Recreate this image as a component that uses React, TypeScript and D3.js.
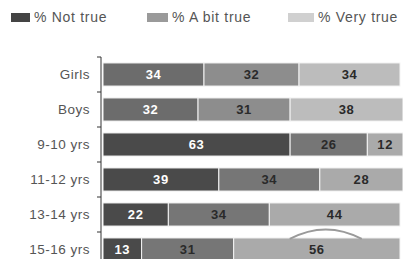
import React, { useEffect, useRef } from 'react';
import * as d3 from 'd3';

const categories = ['Girls', 'Boys', '9-10 yrs', '11-12 yrs', '13-14 yrs', '15-16 yrs'];
const seriesNames = ['% Not true', '% A bit true', '% Very true'];
const notTrue = [34, 32, 63, 39, 22, 13];
const aBitTrue = [32, 31, 26, 34, 34, 31];
const veryTrue = [34, 38, 12, 28, 44, 56];

// grey shades as they come out in the scan (gender rows are lighter)
const genderColors = ['#6c6c6c', '#8d8d8d', '#bcbcbc'];
const ageColors = ['#4a4a4a', '#767676', '#aaaaaa'];
const legendColors = ['#444444', '#9a9a9a', '#d0d0d0'];

const W = 403;
const H = 259;
const FONT = 'Liberation Sans, Arial, sans-serif';

const App = () => {
  const svgRef = useRef<SVGSVGElement>(null);

  useEffect(() => {
    const svg = d3.select(svgRef.current);
    svg.selectAll('*').remove();

    const rows = categories.map((c, i) => ({
      name: c,
      values: [notTrue[i], aBitTrue[i], veryTrue[i]],
    }));

    const x = d3.scaleLinear().domain([0, 100]).range([103, 400]);
    const y = d3.scaleBand().domain(categories).range([57, 267]).paddingInner(0.34).paddingOuter(0.17);

    // legend
    const legendX = [11, 147, 288];
    const legendW = [19, 21, 26];
    const lg = svg.append('g');
    seriesNames.forEach((s, i) => {
      lg.append('rect')
        .attr('x', legendX[i]).attr('y', 13).attr('width', legendW[i]).attr('height', 9)
        .attr('fill', legendColors[i]);
      lg.append('text')
        .attr('x', legendX[i] + legendW[i] + 4).attr('y', 22)
        .attr('font-family', FONT)
        .attr('font-size', 14).attr('letter-spacing', 0.7).attr('fill', '#555')
        .text(s);
    });

    // bars
    const g = svg.append('g');
    rows.forEach((r, ri) => {
      const cols = ri < 2 ? genderColors : ageColors;
      let acc = 0;
      r.values.forEach((v, vi) => {
        const x0 = x(acc);
        const x1 = x(acc + v);
        g.append('rect')
          .attr('x', x0).attr('y', y(r.name)!)
          .attr('width', x1 - x0).attr('height', y.bandwidth())
          .attr('fill', cols[vi])
          .attr('stroke', '#f4f4f4').attr('stroke-width', 1);
        g.append('text')
          .attr('x', (x0 + x1) / 2).attr('y', y(r.name)! + y.bandwidth() / 2)
          .attr('dy', '0.36em')
          .attr('text-anchor', 'middle')
          .attr('font-family', FONT)
          .attr('font-weight', 'bold').attr('font-size', 13).attr('letter-spacing', 0.6)
          .attr('fill', vi === 0 ? '#fff' : '#2a2a2a')
          .text(v);
        acc += v;
      });
    });

    // axis
    const ax = svg.append('g');
    ax.append('line')
      .attr('x1', 101).attr('x2', 101).attr('y1', 57).attr('y2', 267)
      .attr('stroke', '#333').attr('stroke-width', 1);
    const step = y.step();
    d3.range(categories.length + 1).forEach((i) => {
      const ty = 57 + i * step;
      ax.append('line')
        .attr('x1', 97).attr('x2', 101).attr('y1', ty).attr('y2', ty)
        .attr('stroke', '#333');
    });
    categories.forEach((c) => {
      ax.append('text')
        .attr('x', 90).attr('y', y(c)! + y.bandwidth() / 2)
        .attr('dy', '0.36em').attr('text-anchor', 'end')
        .attr('font-family', FONT)
        .attr('font-size', 13.5).attr('letter-spacing', 0.5).attr('fill', '#555')
        .text(c);
    });

    // faint arc artefact above the last bar's right segment
    const last = categories[categories.length - 1];
    const cx = x(75);
    const top = y(last)! - 10;
    svg.append('path')
      .attr('d', `M${cx - 36},${top + 11} Q${cx},${top - 8} ${cx + 36},${top + 11}`)
      .attr('fill', 'none').attr('stroke', '#9a9a9a').attr('stroke-width', 2);
  }, []);

  return (
    <svg
      ref={svgRef}
      width={W}
      height={H}
      style={{ position: 'absolute', left: 0, top: 0, background: '#fff' }}
    />
  );
};

export default App;
